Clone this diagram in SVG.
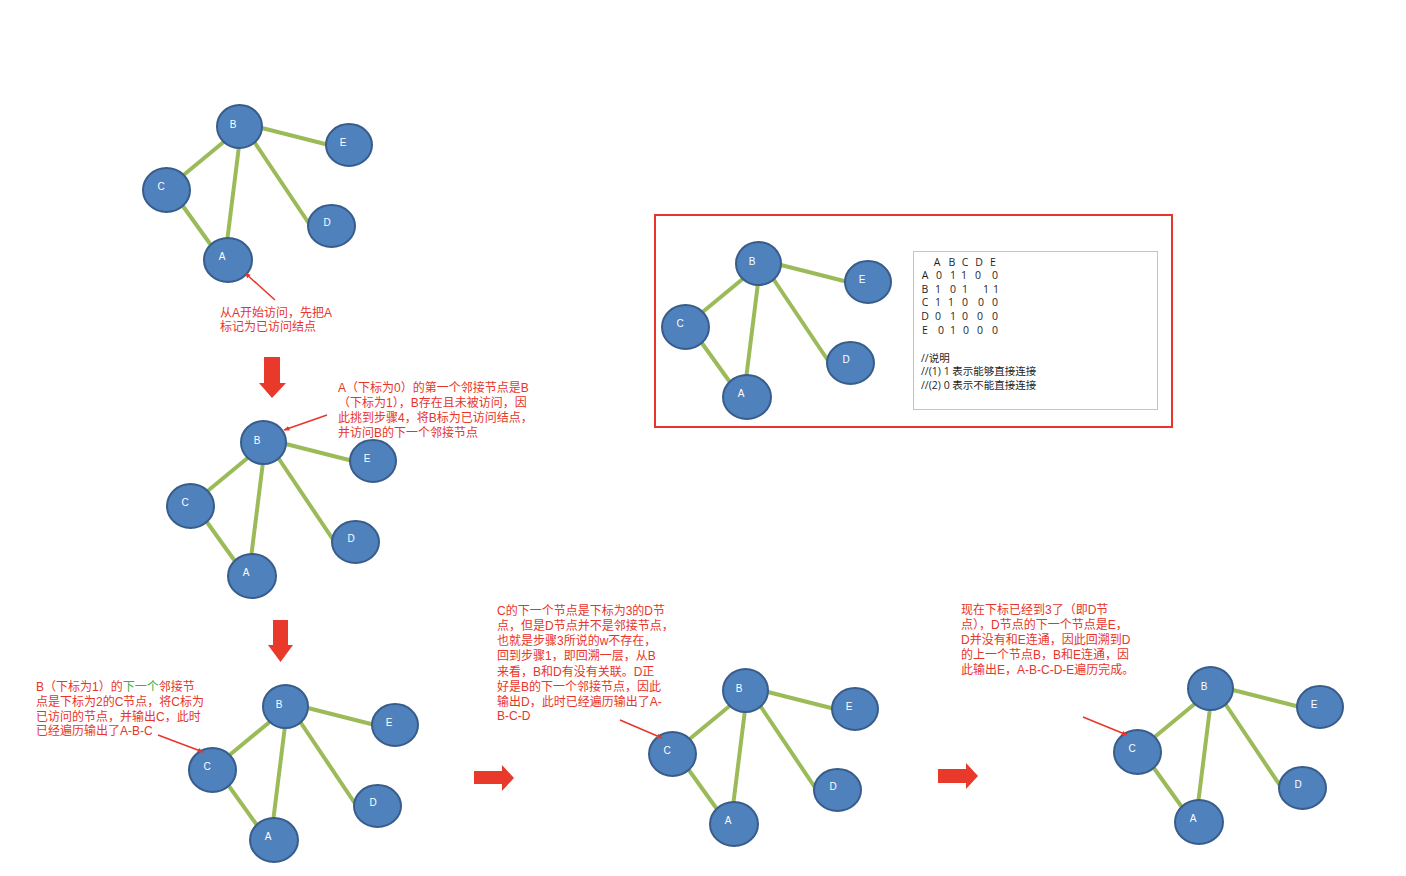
<svg xmlns="http://www.w3.org/2000/svg" width="1406" height="876" viewBox="0 0 1406 876">
  <style>
    .edge { stroke: #9bbb59; stroke-width: 4; stroke-linecap: butt; }
    .node ellipse { fill: #4f81bd; stroke: #385d8a; stroke-width: 2; }
    .node text { fill: #ffffff; font-family: "Liberation Sans", "DejaVu Sans", sans-serif; font-size: 10px; text-anchor: middle; }
    .note { fill: #e8352b; font-family: "Liberation Sans", "Noto Sans CJK SC", sans-serif; font-size: 12px; }
    .green { fill: #3cae4a; }
    .pointer { stroke: #e8352b; stroke-width: 1.5; fill: none; marker-end: url(#tip); }
    .block { fill: #e8392b; }
    .mx { fill: #1e1e1e; font-family: "Open Sans", "Noto Sans CJK SC", sans-serif; font-size: 10.5px; }
    .mxc { text-anchor: middle; }
  </style>
  <defs>
    <marker id="tip" viewBox="0 0 10 10" refX="9" refY="5" markerWidth="6" markerHeight="6" orient="auto" markerUnits="userSpaceOnUse">
      <path d="M0,1 L10,5 L0,9 z" fill="#e8352b"/>
    </marker>
  </defs>
  <rect width="1406" height="876" fill="#ffffff"/>

  <!-- Graph 1: start at A -->
  <g id="graph1">
    <g id="g1-edges">
      <line class="edge" x1="258" y1="127" x2="329" y2="145"/>
      <line class="edge" x1="226" y1="140" x2="180" y2="178"/>
      <line class="edge" x1="239" y1="146" x2="227" y2="242"/>
      <line class="edge" x1="253" y1="140" x2="312" y2="228"/>
      <line class="edge" x1="180" y1="202" x2="213" y2="248"/>
    </g>
    <g id="g1-B" class="node"><ellipse cx="239.5" cy="126.5" rx="22.5" ry="21.5"/><text x="233" y="127.5">B</text></g>
    <g id="g1-E" class="node"><ellipse cx="349" cy="145" rx="23" ry="21"/><text x="343" y="145.5">E</text></g>
    <g id="g1-C" class="node"><ellipse cx="166.5" cy="190" rx="23.5" ry="22"/><text x="161" y="189.5">C</text></g>
    <g id="g1-D" class="node"><ellipse cx="331.5" cy="226" rx="23.5" ry="21"/><text x="327" y="225.5">D</text></g>
    <g id="g1-A" class="node"><ellipse cx="228" cy="260" rx="24" ry="22"/><text x="222" y="259.5">A</text></g>
  </g>

  <!-- Graph 2: visit B -->
  <g id="graph2" transform="translate(24,316)">
    <g id="g2-edges">
      <line class="edge" x1="258" y1="127" x2="329" y2="145"/>
      <line class="edge" x1="226" y1="140" x2="180" y2="178"/>
      <line class="edge" x1="239" y1="146" x2="227" y2="242"/>
      <line class="edge" x1="253" y1="140" x2="312" y2="228"/>
      <line class="edge" x1="180" y1="202" x2="213" y2="248"/>
    </g>
    <g id="g2-B" class="node"><ellipse cx="239.5" cy="126.5" rx="22.5" ry="21.5"/><text x="233" y="127.5">B</text></g>
    <g id="g2-E" class="node"><ellipse cx="349" cy="145" rx="23" ry="21"/><text x="343" y="145.5">E</text></g>
    <g id="g2-C" class="node"><ellipse cx="166.5" cy="190" rx="23.5" ry="22"/><text x="161" y="189.5">C</text></g>
    <g id="g2-D" class="node"><ellipse cx="331.5" cy="226" rx="23.5" ry="21"/><text x="327" y="225.5">D</text></g>
    <g id="g2-A" class="node"><ellipse cx="228" cy="260" rx="24" ry="22"/><text x="222" y="259.5">A</text></g>
  </g>

  <!-- Graph 3: visit C -->
  <g id="graph3" transform="translate(46,580)">
    <g id="g3-edges">
      <line class="edge" x1="258" y1="127" x2="329" y2="145"/>
      <line class="edge" x1="226" y1="140" x2="180" y2="178"/>
      <line class="edge" x1="239" y1="146" x2="227" y2="242"/>
      <line class="edge" x1="253" y1="140" x2="312" y2="228"/>
      <line class="edge" x1="180" y1="202" x2="213" y2="248"/>
    </g>
    <g id="g3-B" class="node"><ellipse cx="239.5" cy="126.5" rx="22.5" ry="21.5"/><text x="233" y="127.5">B</text></g>
    <g id="g3-E" class="node"><ellipse cx="349" cy="145" rx="23" ry="21"/><text x="343" y="145.5">E</text></g>
    <g id="g3-C" class="node"><ellipse cx="166.5" cy="190" rx="23.5" ry="22"/><text x="161" y="189.5">C</text></g>
    <g id="g3-D" class="node"><ellipse cx="331.5" cy="226" rx="23.5" ry="21"/><text x="327" y="225.5">D</text></g>
    <g id="g3-A" class="node"><ellipse cx="228" cy="260" rx="24" ry="22"/><text x="222" y="259.5">A</text></g>
  </g>

  <!-- Graph 4: backtrack, output D -->
  <g id="graph4" transform="translate(506,564)">
    <g id="g4-edges">
      <line class="edge" x1="258" y1="127" x2="329" y2="145"/>
      <line class="edge" x1="226" y1="140" x2="180" y2="178"/>
      <line class="edge" x1="239" y1="146" x2="227" y2="242"/>
      <line class="edge" x1="253" y1="140" x2="312" y2="228"/>
      <line class="edge" x1="180" y1="202" x2="213" y2="248"/>
    </g>
    <g id="g4-B" class="node"><ellipse cx="239.5" cy="126.5" rx="22.5" ry="21.5"/><text x="233" y="127.5">B</text></g>
    <g id="g4-E" class="node"><ellipse cx="349" cy="145" rx="23" ry="21"/><text x="343" y="145.5">E</text></g>
    <g id="g4-C" class="node"><ellipse cx="166.5" cy="190" rx="23.5" ry="22"/><text x="161" y="189.5">C</text></g>
    <g id="g4-D" class="node"><ellipse cx="331.5" cy="226" rx="23.5" ry="21"/><text x="327" y="225.5">D</text></g>
    <g id="g4-A" class="node"><ellipse cx="228" cy="260" rx="24" ry="22"/><text x="222" y="259.5">A</text></g>
  </g>

  <!-- Graph 5: output E, done -->
  <g id="graph5" transform="translate(971,562)">
    <g id="g5-edges">
      <line class="edge" x1="258" y1="127" x2="329" y2="145"/>
      <line class="edge" x1="226" y1="140" x2="180" y2="178"/>
      <line class="edge" x1="239" y1="146" x2="227" y2="242"/>
      <line class="edge" x1="253" y1="140" x2="312" y2="228"/>
      <line class="edge" x1="180" y1="202" x2="213" y2="248"/>
    </g>
    <g id="g5-B" class="node"><ellipse cx="239.5" cy="126.5" rx="22.5" ry="21.5"/><text x="233" y="127.5">B</text></g>
    <g id="g5-E" class="node"><ellipse cx="349" cy="145" rx="23" ry="21"/><text x="343" y="145.5">E</text></g>
    <g id="g5-C" class="node"><ellipse cx="166.5" cy="190" rx="23.5" ry="22"/><text x="161" y="189.5">C</text></g>
    <g id="g5-D" class="node"><ellipse cx="331.5" cy="226" rx="23.5" ry="21"/><text x="327" y="225.5">D</text></g>
    <g id="g5-A" class="node"><ellipse cx="228" cy="260" rx="24" ry="22"/><text x="222" y="259.5">A</text></g>
  </g>

  <!-- Reference panel: graph plus adjacency matrix -->
  <rect x="655" y="215" width="517" height="212" fill="none" stroke="#e8352b" stroke-width="2"/>
  <g id="graph6" transform="translate(519,137)">
    <g id="g6-edges">
      <line class="edge" x1="258" y1="127" x2="329" y2="145"/>
      <line class="edge" x1="226" y1="140" x2="180" y2="178"/>
      <line class="edge" x1="239" y1="146" x2="227" y2="242"/>
      <line class="edge" x1="253" y1="140" x2="312" y2="228"/>
      <line class="edge" x1="180" y1="202" x2="213" y2="248"/>
    </g>
    <g id="g6-B" class="node"><ellipse cx="239.5" cy="126.5" rx="22.5" ry="21.5"/><text x="233" y="127.5">B</text></g>
    <g id="g6-E" class="node"><ellipse cx="349" cy="145" rx="23" ry="21"/><text x="343" y="145.5">E</text></g>
    <g id="g6-C" class="node"><ellipse cx="166.5" cy="190" rx="23.5" ry="22"/><text x="161" y="189.5">C</text></g>
    <g id="g6-D" class="node"><ellipse cx="331.5" cy="226" rx="23.5" ry="21"/><text x="327" y="225.5">D</text></g>
    <g id="g6-A" class="node"><ellipse cx="228" cy="260" rx="24" ry="22"/><text x="222" y="259.5">A</text></g>
  </g>

  <g id="matrix">
    <rect x="913.5" y="251.5" width="244" height="158" fill="#ffffff" stroke="#c4c4c4" stroke-width="1"/>
    <text class="mx mxc" x="937 952 965 979 993" y="266">ABCDE</text>
    <text class="mx mxc" x="925 939 953 964 978 995" y="279">A01100</text>
    <text class="mx mxc" x="925 938 953 965 986 996" y="293">B10111</text>
    <text class="mx mxc" x="925 938 951 965 981 995" y="306">C11000</text>
    <text class="mx mxc" x="925 938 953 965 980 995" y="320">D01000</text>
    <text class="mx mxc" x="925 941 953 966 980 995" y="334">E01000</text>
    <text class="mx" x="921" y="362">//说明</text>
    <text class="mx" x="921" y="375">//(1) 1 表示能够直接连接</text>
    <text class="mx" x="921" y="389">//(2) 0 表示不能直接连接</text>
  </g>

  <!-- Step flow arrows -->
  <g id="flow">
    <polygon class="block" points="264,357 280,357 280,383 286,383 272,398 259,383 264,383"/>
    <polygon class="block" points="273,620 288,620 288,645 293,645 280.5,662 268,645 273,645"/>
    <polygon class="block" points="474,771 502,771 502,765 514,778 502,791 502,784 474,784"/>
    <polygon class="block" points="938,769 966,769 966,763 978,776 966,789 966,783 938,783"/>
  </g>

  <!-- Connectors from notes to nodes -->
  <g id="pointers">
    <line class="pointer" x1="275" y1="300" x2="245" y2="273"/>
    <line class="pointer" x1="327" y1="415" x2="284" y2="430"/>
    <line class="pointer" x1="158" y1="735" x2="203" y2="752"/>
    <line class="pointer" x1="620" y1="720" x2="662" y2="738"/>
    <line class="pointer" x1="1083" y1="717" x2="1127" y2="735"/>
  </g>

  <!-- Step notes -->
  <g id="note1" class="note">
    <text x="220" y="317">从A开始访问，先把A</text>
    <text x="220" y="331">标记为已访问结点</text>
  </g>
  <g id="note2" class="note">
    <text x="338" y="392">A（下标为0）的第一个邻接节点是B</text>
    <text x="338" y="407">（下标为1），B存在且未被访问，因</text>
    <text x="338" y="422">此挑到步骤4，将B标为已访问结点，</text>
    <text x="338" y="437">并访问B的下一个邻接节点</text>
  </g>
  <g id="note3" class="note">
    <text x="36" y="691">B（下标为1）的<tspan class="green">下一个</tspan>邻接节</text>
    <text x="36" y="706">点是下标为2的C节点，将C标为</text>
    <text x="36" y="721">已访问的节点，并输出C，此时</text>
    <text x="36" y="735">已经遍历输出了A-B-C</text>
  </g>
  <g id="note4" class="note">
    <text x="497" y="615">C的下一个节点是下标为3的D节</text>
    <text x="497" y="630">点，但是D节点并不是邻接节点，</text>
    <text x="497" y="645">也就是步骤3所说的w不存在，</text>
    <text x="497" y="660">回到步骤1，即回溯一层，从B</text>
    <text x="497" y="676">来看，B和D有没有关联。D正</text>
    <text x="497" y="691">好是B的下一个邻接节点，因此</text>
    <text x="497" y="706">输出D，此时已经遍历输出了A-</text>
    <text x="497" y="720">B-C-D</text>
  </g>
  <g id="note5" class="note">
    <text x="961" y="614">现在下标已经到3了（即D节</text>
    <text x="961" y="629">点），D节点的下一个节点是E，</text>
    <text x="961" y="644">D并没有和E连通，因此回溯到D</text>
    <text x="961" y="659">的上一个节点B，B和E连通，因</text>
    <text x="961" y="674">此输出E，A-B-C-D-E遍历完成。</text>
  </g>
</svg>
